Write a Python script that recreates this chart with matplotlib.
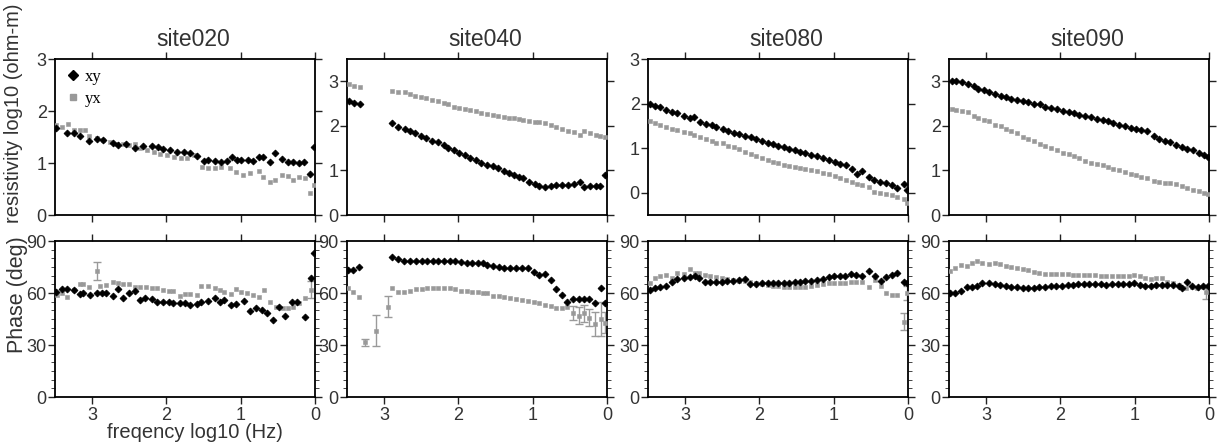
import matplotlib
matplotlib.use('Agg')
import matplotlib.pyplot as plt
from matplotlib.ticker import FixedLocator, MultipleLocator
from matplotlib.lines import Line2D

SITES = ['site020', 'site040', 'site080', 'site090']

# ---------------- site020 ----------------
S020_RXY_F = [3.48,3.34,3.25,3.16,3.04,2.94,2.85,2.72,2.65,2.54, 2.42,2.31,2.20,2.11,2.04,1.95,1.86,1.77,1.68,1.59,
              1.50,1.44,1.35,1.26,1.19,1.12,1.05,0.99,0.90,0.83, 0.76,0.70,0.61,0.54,0.45,0.36,0.29,0.22,0.15,0.07, 0.02]
S020_RXY = [1.67,1.57,1.57,1.52,1.43,1.47,1.45,1.39,1.35,1.37, 1.28,1.33,1.32,1.30,1.27,1.25,1.22,1.21,1.20,1.14,
            1.04,1.06,1.04,1.01,1.04,1.12,1.05,1.05,1.05,1.03, 1.12,1.12,1.01,1.20,1.08,1.01,1.01,1.00,1.01,0.79, 1.31]
S020_RYX_F = [3.48,3.41,3.32,3.24,3.16,3.10,3.04,2.94,2.85,2.76, 2.67,2.58,2.51,2.42,2.35,2.26,2.17,2.08,1.99,1.90,
              1.81,1.72,1.63,1.52,1.44,1.35,1.26,1.15,1.06,0.97, 0.88,0.76,0.70,0.61,0.54,0.45,0.37,0.29,0.22,0.13, 0.07,0.02]
S020_RYX = [1.73,1.70,1.75,1.64,1.64,1.64,1.51,1.48,1.45,1.41, 1.37,1.37,1.34,1.37,1.28,1.25,1.22,1.18,1.16,1.12,
            1.09,1.09,1.16,0.93,0.91,0.90,0.93,0.90,0.82,0.77, 0.80,0.85,0.74,0.64,0.67,0.77,0.75,0.67,0.74,0.71, 0.43,0.57]
S020_PXY_F = [3.48,3.40,3.34,3.25,3.17,3.12,3.03,2.94,2.87,2.81, 2.72,2.65,2.58,2.50,2.42,2.36,2.29,2.20,2.13,2.04,
              1.97,1.91,1.82,1.75,1.68,1.59,1.53,1.44,1.35,1.28, 1.22,1.13,1.06,0.96,0.87,0.79,0.71,0.64,0.57,0.49,
              0.40,0.31,0.24,0.13,0.06,0.02]
S020_PXY = [60.8,62.1,62.1,61.5,59.4,59.8,58.8,60.2,60.2,60.2, 58.5,62.1,57.3,59.8,61.4,56.0,57.3,56.4,55.0,54.6,
            54.6,54.0,54.0,54.0,53.1,53.7,55.0,55.6,56.9,54.6, 56.0,53.1,53.5,55.4,49.6,51.1,50.2,48.3,44.4,52.1,
            46.9,55.0,55.0,46.4,68.9,82.9]
S020_PYX_F = [3.47,3.40,3.34,3.25,3.17,3.12,3.04,2.94,2.89,2.81, 2.72,2.65,2.58,2.50,2.42,2.36,2.27,2.20,2.13,2.04,
              1.97,1.91,1.82,1.75,1.68,1.59,1.53,1.44,1.35,1.28, 1.22,1.13,1.06,1.00,0.91,0.84,0.75,0.68,0.61,0.52,
              0.43,0.36,0.29,0.22,0.13,0.06]
S020_PYX = [58.9,59.8,57.9,61.7,65.0,65.0,63.6,72.7,64.2,64.6, 66.2,65.6,65.2,65.0,63.3,63.3,63.6,63.1,62.7,61.7,
            61.4,61.4,58.5,59.3,59.3,58.9,64.2,64.2,62.7,61.7, 60.8,59.3,62.1,60.8,59.8,58.9,57.5,61.7,55.0,52.1,
            51.5,51.5,52.1,54.0,57.0,62.0]
S020_PYX_ERR_F = [2.94, 0.06]
S020_PYX_ERR_V = [72.7, 62.0]
S020_PYX_ERR = [5.0, 5.0]

# ---------------- site040 ----------------
S040_R_F = [3.47,3.40,3.33, 2.90,2.81,2.72,2.65,2.59,2.51,2.43,2.36,2.28,2.20, 2.14,2.06,1.99,1.91,1.84,1.76,1.69,1.61,1.53,1.47,
            1.39,1.32,1.25,1.18,1.13,1.05,0.97,0.91,0.84,0.76, 0.68,0.60,0.52,0.45,0.37,0.31,0.23,0.15,0.09,0.03]
S040_RXY = [2.55,2.52,2.49, 2.07,1.97,1.94,1.88,1.85,1.77,1.72,1.67,1.64,1.57, 1.51,1.45,1.39,1.34,1.28,1.23,1.17,1.13,1.09,1.06,
            0.98,0.94,0.90,0.85,0.83,0.75,0.69,0.66,0.62,0.66, 0.68,0.68,0.68,0.69,0.75,0.62,0.66,0.64,0.66,0.90]
S040_RYX = [2.94,2.90,2.88, 2.79,2.77,2.75,2.71,2.68,2.64,2.62,2.58,2.55,2.52, 2.50,2.43,2.41,2.37,2.35,2.34,2.28,2.26,2.25,2.22,
            2.20,2.17,2.17,2.15,2.13,2.11,2.09,2.09,2.07,2.03, 1.98,1.92,1.88,1.87,1.79,1.88,1.85,1.79,1.77,1.74]
S040_PXY_F = [3.48,3.42,3.34, 2.90,2.81,2.73,2.65,2.57,2.49,2.42,2.34,2.27,2.19, 2.12,2.04,1.97,1.89,1.82,1.74,1.67,1.61,1.53,1.45,
              1.38,1.30,1.22,1.14,1.06,0.98,0.91,0.84,0.76,0.68, 0.61,0.54,0.46,0.38,0.31,0.24,0.16,0.08,0.03]
S040_PXY = [73.3,73.3,75.2, 80.6,79.4,78.7,78.7,78.7,78.7,78.7,78.5,78.5,78.5, 78.5,78.5,78.1,77.5,77.5,77.5,77.1,76.2,75.6,75.2,
            74.2,74.2,74.2,74.2,74.2,72.3,70.4,71.0,67.5,62.4, 58.9,54.7,56.6,56.6,56.6,56.6,54.5,62.8,54.0]
S040_PYX_F = [3.48,3.42,3.34,3.26,3.11,2.95, 2.90,2.81,2.73,2.65,2.57,2.49,2.42,2.34,2.27,2.19,
              2.12,2.04,1.97,1.89,1.82,1.74,1.67,1.61,1.53,1.45, 1.38,1.30,1.22,1.14,1.06,0.98,0.91,0.84,0.76,0.68,
              0.61,0.54,0.46,0.38,0.31,0.24,0.16,0.08,0.03]
S040_PYX = [62.7,60.8,57.9,31.6,38.2,52.1, 62.7,60.4,60.8,61.4,62.1,62.1,62.7,62.7,62.7,62.7,
            62.7,62.3,61.4,61.4,60.8,60.8,60.2,59.8,58.5,58.5, 57.9,56.9,56.6,56.0,55.6,54.6,54.0,53.1,52.5,51.1,
            51.5,52.1,48.3,47.0,48.3,45.8,42.0,45.0,42.9]
S040_PYX_ERR_F = [3.26, 3.11, 2.95, 0.46, 0.38, 0.31, 0.24, 0.16, 0.08, 0.03]
S040_PYX_ERR_V = [31.6, 38.2, 52.1, 48.3, 47.0, 48.3, 45.8, 42.0, 45.0, 42.9]
S040_PYX_ERR = [2.0, 9.0, 6.0, 4.0, 5.0, 5.0, 5.0, 7.0, 10.0, 6.0]

# ---------------- site080 ----------------
S080_R_F = [3.47,3.41,3.34,3.26,3.18,3.11,3.02,2.94,2.88,2.80, 2.72,2.64,2.58,2.49,2.42,2.34,2.27,2.19,2.12,2.05,
            1.97,1.89,1.82,1.75,1.67,1.60,1.52,1.45,1.38,1.30, 1.22,1.14,1.06,0.98,0.91,0.84,0.76,0.69,0.62,0.53,
            0.46,0.38,0.30,0.22,0.15,0.06,0.02]
S080_RXY = [1.99,1.95,1.92,1.86,1.82,1.78,1.72,1.67,1.69,1.59, 1.54,1.52,1.47,1.42,1.39,1.35,1.32,1.27,1.24,1.20,
            1.17,1.12,1.09,1.05,1.02,0.99,0.95,0.92,0.88,0.84, 0.82,0.77,0.73,0.69,0.65,0.62,0.54,0.43,0.49,0.35,
            0.29,0.24,0.22,0.17,0.10,0.20,0.05]
S080_RYX = [1.62,1.56,1.52,1.47,1.44,1.41,1.37,1.33,1.29,1.26, 1.20,1.17,1.12,1.11,1.05,1.02,0.97,0.92,0.86,0.82,
            0.79,0.73,0.69,0.67,0.62,0.59,0.58,0.56,0.54,0.50, 0.49,0.44,0.41,0.37,0.32,0.28,0.24,0.20,0.17,0.13,
            0.02,-0.01,-0.04,-0.06,-0.10,-0.14,-0.22]
S080_P_F = [3.47,3.41,3.34,3.26,3.18,3.11,3.02,2.93,2.87,2.81, 2.73,2.66,2.58,2.51,2.43,2.35,2.27,2.19,2.13,2.05,
            1.97,1.89,1.82,1.75,1.67,1.60,1.52,1.45,1.38,1.30, 1.22,1.15,1.07,1.00,0.92,0.85,0.77,0.70,0.62,0.53,
            0.45,0.37,0.30,0.22,0.15,0.06,0.02]
S080_PXY = [61.7,62.7,63.3,64.1,66.5,67.9,68.5,69.1,69.8,68.5, 66.5,66.5,66.5,66.5,67.1,67.1,67.5,67.9,65.0,65.0,
            65.6,65.6,65.6,65.6,65.6,65.6,66.2,66.2,67.0,67.0, 67.5,67.9,69.4,69.8,69.8,69.8,71.0,70.4,69.8,72.9,
            69.8,67.1,69.1,70.4,71.8,66.5,65.6]
S080_PYX = [65.6,68.5,69.8,70.4,68.5,71.4,71.0,73.7,71.4,71.8, 70.4,69.8,69.1,68.5,67.9,67.5,67.1,67.0,66.2,65.6,
            65.0,64.6,64.2,64.0,63.7,63.7,63.7,63.7,63.7,64.0, 64.6,65.2,65.6,66.0,66.0,66.0,66.5,66.5,66.5,63.7,
            67.5,64.0,59.8,58.9,58.9,43.5,60.0]
S080_PYX_ERR_F = [0.06, 0.02]
S080_PYX_ERR_V = [43.5, 60.0]
S080_PYX_ERR = [5.0, 4.0]

# ---------------- site090 ----------------
S090_R_F = [3.46,3.40,3.33,3.25,3.17,3.11,3.03,2.96,2.88,2.80, 2.73,2.66,2.58,2.51,2.43,2.36,2.28,2.21,2.13,2.05,
            1.97,1.89,1.82,1.75,1.67,1.59,1.51,1.43,1.36,1.29, 1.21,1.13,1.05,0.98,0.91,0.84,0.74,0.67,0.59,0.52,
            0.44,0.37,0.29,0.22,0.14,0.07,0.02]
S090_RXY = [3.01,3.01,2.99,2.95,2.89,2.83,2.80,2.76,2.72,2.66, 2.65,2.61,2.59,2.55,2.53,2.49,2.48,2.43,2.40,2.38,
            2.34,2.31,2.28,2.25,2.23,2.19,2.15,2.13,2.10,2.06, 2.03,2.00,1.95,1.93,1.90,1.89,1.78,1.70,1.66,1.63,
            1.57,1.52,1.48,1.45,1.40,1.35,1.30]
S090_RYX = [2.38,2.36,2.34,2.32,2.21,2.18,2.13,2.10,2.03,2.00, 1.93,1.89,1.83,1.74,1.70,1.65,1.60,1.55,1.51,1.45,
            1.40,1.36,1.32,1.27,1.21,1.17,1.15,1.12,1.07,1.04, 1.00,0.97,0.92,0.89,0.85,0.83,0.77,0.74,0.72,0.72,
            0.70,0.66,0.61,0.57,0.53,0.50,0.48]
S090_PXY_F = [3.49,3.42,3.34,3.26,3.19,3.12,3.05,2.96,2.88,2.81, 2.73,2.66,2.58,2.50,2.43,2.36,2.29,2.21,2.13,2.06,
              1.98,1.90,1.83,1.76,1.68,1.61,1.53,1.46,1.38,1.31, 1.23,1.16,1.08,1.01,0.93,0.86,0.78,0.71,0.63,0.56,
              0.48,0.41,0.37,0.30,0.23,0.15,0.08,0.02]
S090_PXY = [59.8,60.2,61.4,63.3,63.3,64.1,65.9,65.6,65.0,64.6, 64.1,63.7,63.3,63.1,63.1,63.1,63.3,63.7,64.1,64.2,
            64.2,64.6,64.6,65.0,65.0,65.0,65.2,65.2,64.6,65.0, 65.0,65.0,65.0,65.6,64.6,64.1,64.1,64.6,64.6,64.6,
            64.6,64.0,62.7,66.5,64.0,63.5,63.8,63.8]
S090_PYX_F = [3.49,3.42,3.34,3.26,3.19,3.12,3.05,2.96,2.88,2.81, 2.73,2.66,2.58,2.50,2.43,2.36,2.29,2.21,2.13,2.06,
              1.98,1.90,1.83,1.76,1.68,1.61,1.53,1.46,1.38,1.31, 1.23,1.16,1.08,1.01,0.93,0.86,0.78,0.71,0.63,0.56,
              0.48,0.41,0.31,0.23,0.16,0.08,0.04]
S090_PYX = [72.9,74.2,76.2,75.6,77.5,78.7,77.1,76.8,77.5,76.8, 75.6,74.8,74.2,73.7,73.3,72.3,71.4,71.0,71.0,71.0,
            71.0,71.0,70.4,70.4,70.4,70.4,70.4,70.0,70.0,70.0, 70.0,70.0,70.0,70.4,69.8,68.5,67.9,68.5,68.9,66.5,
            65.6,64.6,62.7,63.3,62.7,63.7,60.8]
S090_PYX_ERR_F = [0.04]
S090_PYX_ERR_V = [60.8]
S090_PYX_ERR = [4.0]

RHO_YLIM = [(0, 3), (0, 3.5), (-0.5, 3), (0, 3.5)]
RHO_TICKS = [0, 1, 2, 3]
PHASE_TICKS = [0, 30, 60, 90]
FREQ_TICKS = [0, 1, 2, 3]
SERIES = ['xy', 'yx']

site_data = [
    dict(rxy=(S020_RXY_F, S020_RXY), ryx=(S020_RYX_F, S020_RYX),
         pxy=(S020_PXY_F, S020_PXY), pyx=(S020_PYX_F, S020_PYX),
         perr=(S020_PYX_ERR_F, S020_PYX_ERR_V, S020_PYX_ERR)),
    dict(rxy=(S040_R_F, S040_RXY), ryx=(S040_R_F, S040_RYX),
         pxy=(S040_PXY_F, S040_PXY), pyx=(S040_PYX_F, S040_PYX),
         perr=(S040_PYX_ERR_F, S040_PYX_ERR_V, S040_PYX_ERR)),
    dict(rxy=(S080_R_F, S080_RXY), ryx=(S080_R_F, S080_RYX),
         pxy=(S080_P_F, S080_PXY), pyx=(S080_P_F, S080_PYX),
         perr=(S080_PYX_ERR_F, S080_PYX_ERR_V, S080_PYX_ERR)),
    dict(rxy=(S090_R_F, S090_RXY), ryx=(S090_R_F, S090_RYX),
         pxy=(S090_PXY_F, S090_PXY), pyx=(S090_PYX_F, S090_PYX),
         perr=(S090_PYX_ERR_F, S090_PYX_ERR_V, S090_PYX_ERR)),
]

plt.rcParams['font.family'] = ['Liberation Sans', 'DejaVu Sans']
W, H = 1227, 445
fig = plt.figure(figsize=(W / 100, H / 100), dpi=100)

LEFTS = [55, 347, 648, 949]
AW = 260
TOP_Y0, TOP_Y1 = 59, 215
BOT_Y0, BOT_Y1 = 241, 397

XY_STYLE = dict(marker='D', color='black', markersize=3.5, markeredgewidth=0.6, linestyle='none', zorder=4)
YX_STYLE = dict(marker='s', color='#999999', markersize=3.3, markeredgewidth=0.4, linestyle='none', zorder=3)
TXT = '#333333'


def style_axis(ax, labelbottom):
    for s in ax.spines.values():
        s.set_linewidth(1.3)
    ax.tick_params(axis='both', which='major', direction='out', length=5, width=1.0,
                   top=True, right=True, labelsize=13, pad=1, colors='#222222', labelcolor=TXT)
    ax.tick_params(axis='both', which='minor', direction='out', length=3, width=0.7,
                   top=True, right=True, colors='#444444')
    ax.tick_params(axis='x', labelbottom=labelbottom, pad=2)
    ax.set_xlim(3.5, 0)
    ax.xaxis.set_major_locator(FixedLocator(FREQ_TICKS))


for i, (name, d) in enumerate(zip(SITES, site_data)):
    l = LEFTS[i]
    axr = fig.add_axes([l / W, 1 - TOP_Y1 / H, AW / W, (TOP_Y1 - TOP_Y0) / H])
    axp = fig.add_axes([l / W, 1 - BOT_Y1 / H, AW / W, (BOT_Y1 - BOT_Y0) / H])

    # resistivity
    axr.plot(d['ryx'][0], d['ryx'][1], **YX_STYLE)
    axr.plot(d['rxy'][0], d['rxy'][1], **XY_STYLE)
    style_axis(axr, False)
    axr.set_ylim(*RHO_YLIM[i])
    axr.yaxis.set_major_locator(FixedLocator(RHO_TICKS))
    axr.set_yticklabels([str(t) for t in RHO_TICKS])

    # phase
    ef, ev, ee = d['perr']
    axp.errorbar(ef, ev, yerr=ee, fmt='none', ecolor='#9a9a9a', elinewidth=1.0, capsize=3, capthick=1.0, zorder=2)
    axp.plot(d['pyx'][0], d['pyx'][1], **YX_STYLE)
    axp.plot(d['pxy'][0], d['pxy'][1], **XY_STYLE)
    style_axis(axp, True)
    axp.set_ylim(0, 90)
    axp.yaxis.set_major_locator(FixedLocator(PHASE_TICKS))
    axp.yaxis.set_minor_locator(MultipleLocator(5))
    axp.set_xticklabels([str(t) for t in FREQ_TICKS])

    axr.text(0.53, 1.125, name, transform=axr.transAxes, ha='center', va='center',
             fontsize=16.5, color=TXT)

    if i == 0:
        handles = [Line2D([], [], marker='D', color='black', markersize=5, linestyle='none'),
                   Line2D([], [], marker='s', color='#999999', markersize=4.5, linestyle='none')]
        axr.legend(handles, SERIES, loc='upper left', frameon=False,
                   prop={'family': 'Liberation Serif', 'size': 12},
                   handlelength=0.9, handletextpad=0.3, labelspacing=0.35,
                   borderaxespad=0.4, borderpad=0.2)

fig.text(14 / W, 1 - 113 / H, 'resistivity log10 (ohm-m)', rotation=90, ha='center', va='center',
         fontsize=14.5, color=TXT)
fig.text(18 / W, 1 - 295 / H, 'Phase (deg)', rotation=90, ha='center', va='center',
         fontsize=15.5, color=TXT)
fig.text(195 / W, 1 - 432 / H, 'freqency log10 (Hz)', ha='center', va='center',
         fontsize=14.5, color=TXT)

fig.savefig('out.png', dpi=100)
